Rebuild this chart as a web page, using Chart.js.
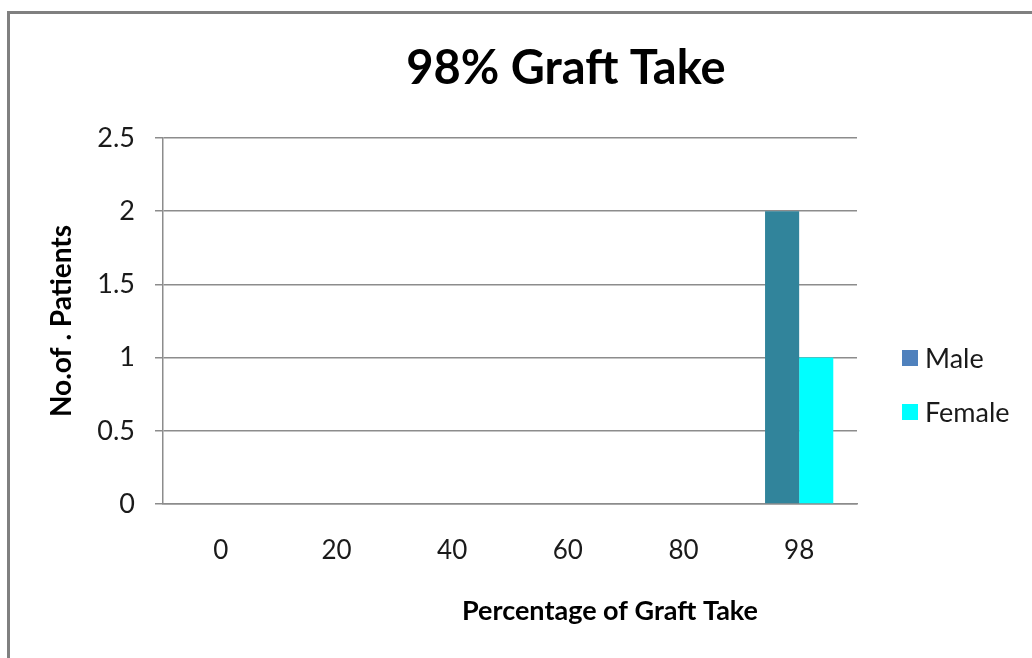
<!DOCTYPE html>
<html>
<head>
<meta charset="utf-8">
<title>98% Graft Take</title>
<script src="https://cdn.jsdelivr.net/npm/chart.js@4/dist/chart.umd.min.js"></script>
<style>
    body { margin: 0; background: #fff; }
    #wrap { position: relative; width: 1032px; height: 658px; overflow: hidden; }
    #frame {
        position: absolute; left: 7px; top: 11px; right: -5px; bottom: -5px;
        border-left: 3px solid #808080; border-top: 3px solid #808080;
        pointer-events: none;
    }
</style>
</head>
<body>
<div id="wrap">
    <canvas id="graft-chart" width="1032" height="658"></canvas>
    <div id="frame"></div>
</div>
<script>
// Dane wykresu
const chartTitle = '98% Graft Take';
const xTitle = 'Percentage of Graft Take';
const yTitle = 'No.of . Patients';
const categories = ['0', '20', '40', '60', '80', '98'];
const seriesNames = ['Male', 'Female'];
const maleValues = [0, 0, 0, 0, 0, 2];
const femaleValues = [0, 0, 0, 0, 0, 1];
const yTicks = [0, 0.5, 1, 1.5, 2, 2.5];

const barColors = ['#31849B', '#00FFFF'];
const legendColors = ['#4F81BD', '#00FFFF'];
const FONT = 'Lato, "Open Sans", sans-serif';

// Tytul, tytul osi X i legenda rysowane wzgledem obszaru wykresu
const extras = {
    id: 'extras',
    afterDraw(chart) {
        const { ctx, chartArea } = chart;
        ctx.save();
        ctx.fillStyle = '#000';
        ctx.textAlign = 'center';
        ctx.textBaseline = 'middle';

        ctx.font = 'bold 47px ' + FONT;
        ctx.fillText(chartTitle, chartArea.left + 403, chartArea.top - 69);

        ctx.font = 'bold 27px ' + FONT;
        ctx.fillText(xTitle, chartArea.left + 447, chartArea.bottom + 107);

        ctx.textAlign = 'left';
        ctx.font = '27px ' + FONT;
        chart.data.datasets.forEach((ds, i) => {
            const y = chartArea.top + 220 + i * 54;
            ctx.fillStyle = legendColors[i];
            ctx.fillRect(chartArea.right + 45, y - 8, 16, 16);
            ctx.fillStyle = '#1a1a1a';
            ctx.fillText(ds.label, chartArea.right + 68, y + 1);
        });
        ctx.restore();
    }
};

document.addEventListener('DOMContentLoaded', () => {
    const ctx = document.getElementById('graft-chart').getContext('2d');

    new Chart(ctx, {
        type: 'bar',
        data: {
            labels: categories,
            datasets: [
                { label: seriesNames[0], data: maleValues, backgroundColor: barColors[0], borderWidth: 0 },
                { label: seriesNames[1], data: femaleValues, backgroundColor: barColors[1], borderWidth: 0 }
            ]
        },
        options: {
            responsive: false,
            animation: false,
            devicePixelRatio: 1,
            layout: { padding: { left: 10, top: 138, right: 175, bottom: 0 } },
            datasets: { bar: { categoryPercentage: 0.59, barPercentage: 1 } },
            plugins: {
                legend: { display: false },
                title: { display: false },
                tooltip: { enabled: false }
            },
            scales: {
                x: {
                    grid: { display: false, drawTicks: false },
                    border: { display: true, color: '#8c8c8c', width: 1.5 },
                    ticks: { color: '#1a1a1a', padding: 31, font: { family: FONT, size: 26 } },
                    afterFit(scale) { scale.height = 154; }
                },
                y: {
                    min: 0,
                    max: 2.5,
                    afterBuildTicks(scale) { scale.ticks = yTicks.map(v => ({ value: v })); },
                    grid: { color: '#8c8c8c', lineWidth: 1.5, tickLength: 8 },
                    border: { display: true, color: '#8c8c8c', width: 1.5 },
                    ticks: {
                        color: '#1a1a1a',
                        padding: 20,
                        font: { family: FONT, size: 27 },
                        callback: v => String(v)
                    },
                    title: {
                        display: true,
                        text: yTitle,
                        color: '#000',
                        padding: { top: 35, bottom: 0 },
                        font: { family: FONT, size: 28, weight: 'bold' }
                    },
                    afterFit(scale) { scale.width = 153; }
                }
            }
        },
        plugins: [extras]
    });
});
</script>
</body>
</html>
